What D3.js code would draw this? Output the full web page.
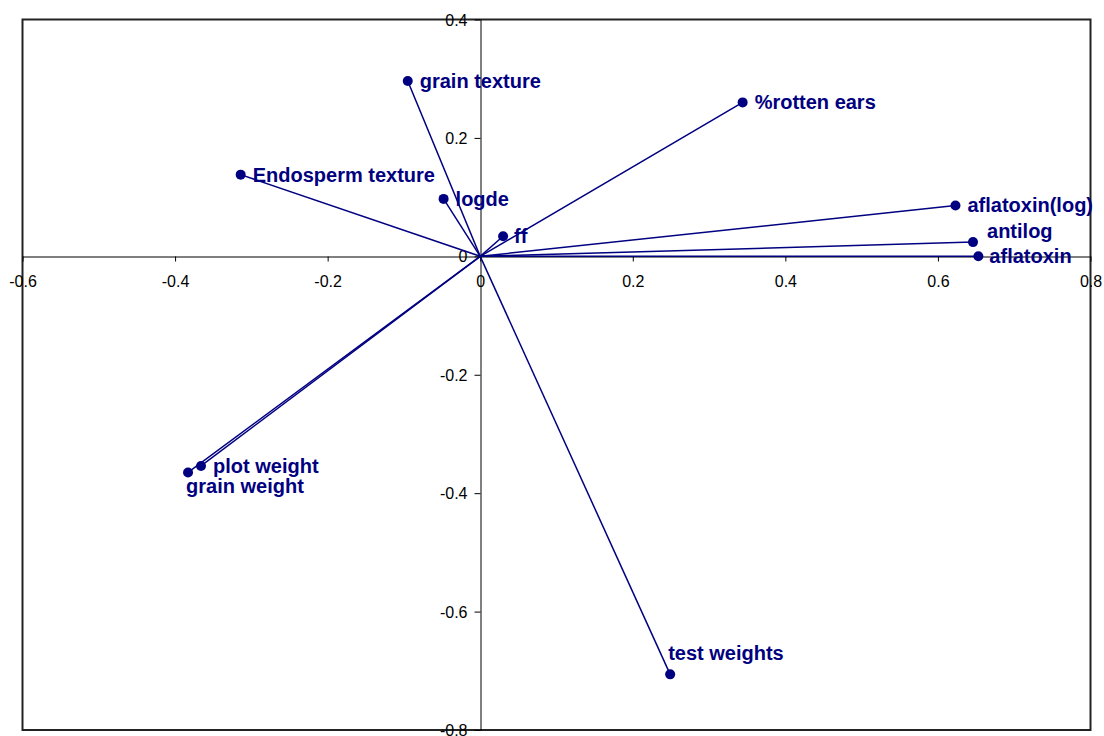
<!DOCTYPE html>
<html>
<head>
<meta charset="utf-8">
<script src="https://cdn.jsdelivr.net/npm/d3@7/dist/d3.min.js"></script>
<style>
  html, body { margin: 0; padding: 0; background: #fff; }
  svg { display: block; }
</style>
</head>
<body>
<svg id="chart" width="1104" height="736"></svg>
<script>
// Variable loadings (component 1 vs component 2)
const variables = ["grain texture", "%rotten ears", "Endosperm texture", "logde", "ff",
  "aflatoxin(log)", "antilog", "aflatoxin", "plot weight", "grain weight", "test weights"];
const comp1 = [-0.095, 0.344, -0.314, -0.048, 0.030, 0.623, 0.646, 0.653, -0.366, -0.383, 0.249];
const comp2 = [0.296, 0.260, 0.138, 0.097, 0.034, 0.086, 0.024, 0.000, -0.354, -0.365, -0.706];

const xTicks = [-0.6, -0.4, -0.2, 0, 0.2, 0.4, 0.6, 0.8];
const yTicks = [-0.8, -0.6, -0.4, -0.2, 0, 0.2, 0.4];

// label placement relative to each point (px)
const labelOffset = {
  "grain texture": [12, 0],
  "%rotten ears": [12, 0],
  "Endosperm texture": [12, 0],
  "logde": [12, 0],
  "ff": [11, 0],
  "aflatoxin(log)": [12, 0],
  "antilog": [14, -11],
  "aflatoxin": [11, 0],
  "plot weight": [12, 0],
  "grain weight": [-2, 14],
  "test weights": [-2, -21]
};

const navy = "#000080";
const svg = d3.select("#chart");

const plotLeft = 22.5, plotRight = 1090.5, plotTop = 19.5, plotBottom = 730;
const x = d3.scaleLinear().domain([-0.6, 0.8]).range([plotLeft, plotRight]);
const y = d3.scaleLinear().domain([-0.8, 0.4]).range([plotBottom, plotTop]);

// plot area frame
svg.append("rect")
  .attr("x", plotLeft).attr("y", plotTop)
  .attr("width", plotRight - plotLeft).attr("height", plotBottom - plotTop)
  .attr("fill", "#fff").attr("stroke", "#222").attr("stroke-width", 2);

// plain hyphen for negatives
const fmt = d => d === 0 ? "0" : d.toFixed(1);

// horizontal axis through y = 0
const gx = svg.append("g")
  .attr("transform", `translate(0,${Math.round(y(0)) + 0.5})`)
  .call(d3.axisBottom(x).tickValues(xTicks).tickFormat(fmt).tickSizeInner(5).tickSizeOuter(0));

// vertical axis through x = 0
const gy = svg.append("g")
  .attr("transform", `translate(${Math.round(x(0)) + 0.5},0)`)
  .call(d3.axisLeft(y).tickValues(yTicks).tickFormat(fmt).tickSizeInner(6).tickSizeOuter(0));

[gx, gy].forEach(g => {
  g.select(".domain").attr("stroke", "#000").attr("stroke-width", 1);
  g.selectAll(".tick line").attr("stroke", "#000");
  g.selectAll(".tick text")
    .attr("fill", "#000")
    .style("font-family", "Arial, 'Liberation Sans', sans-serif")
    .style("font-size", "16px");
});
gx.selectAll(".tick text").attr("y", 25).attr("dy", "0.35em");
gy.selectAll(".tick text").attr("x", -13).attr("dy", "0.35em");

const points = variables.map((name, i) => ({ name, px: comp1[i], py: comp2[i] }));

// vectors from the origin
svg.append("g").selectAll("line")
  .data(points).join("line")
  .attr("x1", x(0)).attr("y1", y(0))
  .attr("x2", d => x(d.px)).attr("y2", d => y(d.py))
  .attr("stroke", navy).attr("stroke-width", 1.5);

svg.append("g").selectAll("circle")
  .data(points).join("circle")
  .attr("cx", d => x(d.px)).attr("cy", d => y(d.py))
  .attr("r", 5).attr("fill", navy);

svg.append("g").selectAll("text")
  .data(points).join("text")
  .attr("x", d => x(d.px) + labelOffset[d.name][0])
  .attr("y", d => y(d.py) + labelOffset[d.name][1])
  .attr("dy", "0.35em")
  .attr("fill", navy)
  .style("font-family", "Arial, 'Liberation Sans', sans-serif")
  .style("font-size", "20px")
  .style("font-weight", "bold")
  .text(d => d.name);
</script>
</body>
</html>
